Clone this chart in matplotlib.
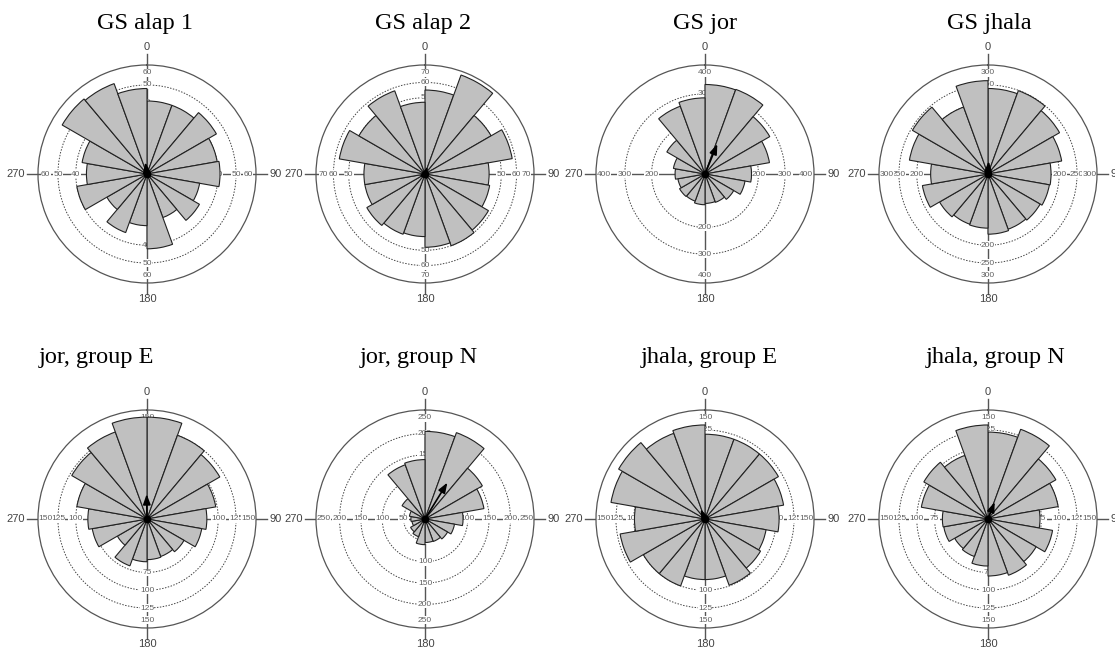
import numpy as np
import matplotlib.pyplot as plt

# counts per 20 degree sector, clockwise from north (0-20, 20-40, ... 340-360)
titles = ["GS alap 1", "GS alap 2", "GS jor", "GS jhala",
          "jor, group E", "jor, group N", "jhala, group E", "jhala, group N"]

gs_alap1 = [41, 41, 45, 40, 41, 30, 34, 26, 42, 29, 35, 26, 40, 34, 37, 55, 54, 48]
gs_alap2 = [55, 69, 50, 58, 42, 43, 48, 50, 48, 41, 42, 44, 40, 40, 57, 50, 58, 47]
gs_jor = [335, 337, 280, 245, 174, 152, 124, 113, 110, 115, 108, 110, 103, 112, 120, 165, 270, 285]
gs_jhala = [240, 249, 232, 210, 177, 175, 169, 165, 169, 152, 150, 157, 187, 161, 224, 245, 200, 262]
jor_e = [143, 125, 118, 98, 84, 78, 60, 56, 57, 60, 70, 48, 78, 83, 100, 122, 130, 143]
jor_n = [205, 215, 155, 140, 89, 70, 61, 56, 55, 60, 44, 39, 31, 33, 37, 62, 135, 139]
jhala_e = [119, 119, 119, 112, 104, 87, 90, 99, 85, 85, 100, 100, 121, 99, 134, 140, 128, 132]
jhala_n = [122, 134, 110, 100, 73, 92, 78, 84, 80, 66, 56, 54, 63, 64, 95, 104, 95, 132]

counts = [gs_alap1, gs_alap2, gs_jor, gs_jhala, jor_e, jor_n, jhala_e, jhala_n]

# scale labels on the axes (last one is the outer circle)
scale_vals = [[40, 50, 60], [50, 60, 70], [200, 300, 400], [200, 250, 300],
              [75, 100, 125, 150], [50, 100, 150, 200, 250],
              [100, 125, 150], [75, 100, 125, 150]]

# layout in pixels
W, H = 1115, 652
R_PX = 109
centers = [(147, 174), (425, 174), (705, 174), (988, 174),
           (147, 519), (425, 519), (705, 519), (988, 519)]
title_pos = [(145, 29), (423, 29), (705, 29), (989, 29),
             (96, 363), (419, 363), (709, 363), (996, 363)]

fig = plt.figure(figsize=(W / 100, H / 100), dpi=100)
fig.patch.set_facecolor("white")

sans = ["Liberation Sans", "DejaVu Sans"]
grey = "#555555"

for k, vals in enumerate(counts):
    vals = np.array(vals, dtype=float)
    n = len(vals)
    width = 2 * np.pi / n
    theta = np.arange(n) * width + width / 2
    top = scale_vals[k][-1]
    rmax = top * 1.02

    cx, cy = centers[k]
    ax = fig.add_axes([(cx - R_PX) / W, 1 - (cy + R_PX) / H, 2 * R_PX / W, 2 * R_PX / H],
                      projection="polar")
    ax.set_theta_zero_location("N")
    ax.set_theta_direction(-1)
    ax.set_rlim(0, rmax)
    ax.set_xticks([])
    ax.set_yticks(scale_vals[k][:-1])
    ax.set_yticklabels([])
    ax.yaxis.grid(True, color="#444444", linestyle=(0, (1.5, 1.5)), linewidth=0.7)
    ax.set_axisbelow(True)
    ax.spines["polar"].set_color(grey)
    ax.spines["polar"].set_linewidth(0.9)

    # cross axes
    for a in [0, np.pi / 2, np.pi, 3 * np.pi / 2]:
        ax.plot([a, a], [0, rmax * 1.1], color=grey, lw=1.0, clip_on=False, zorder=1.5)

    # scale labels on the four axes
    for v in scale_vals[k]:
        rr = v if v != top else rmax * 0.93
        for a in [0, np.pi / 2, np.pi, 3 * np.pi / 2]:
            ax.text(a, rr, str(v), ha="center", va="center", fontsize=6, color="#606060",
                    family=sans, zorder=2,
                    bbox=dict(boxstyle="square,pad=0.05", fc="white", ec="none"))

    # direction labels
    ax.text(0, rmax * 1.12, "0", ha="center", va="bottom", fontsize=8, color="#444444",
            family=sans)
    ax.text(np.pi, rmax * 1.1, "180", ha="center", va="top", fontsize=8, color="#444444",
            family=sans)
    ax.text(np.pi / 2, rmax * 1.12, "90", ha="left", va="center", fontsize=8, color="#444444",
            family=sans)
    ax.text(3 * np.pi / 2, rmax * 1.12, "270", ha="right", va="center", fontsize=8,
            color="#444444", family=sans)

    ax.bar(theta, vals, width=width, bottom=0, color="#c0c0c0", edgecolor="#222222",
           linewidth=0.8, zorder=3)

    # mean vector
    C = np.sum(vals * np.cos(theta))
    S = np.sum(vals * np.sin(theta))
    r_bar = np.hypot(C, S) / vals.sum()
    mean_ang = np.arctan2(S, C)
    ax.annotate("", xy=(mean_ang, r_bar * rmax), xytext=(mean_ang, 0),
                arrowprops=dict(arrowstyle="-|>,head_length=0.6,head_width=0.22",
                                color="black", lw=1.2, shrinkA=0, shrinkB=0),
                zorder=6)
    ax.plot(0, 0, "o", color="black", ms=4.5, zorder=7)

    tx, ty = title_pos[k]
    fig.text(tx / W, 1 - ty / H, titles[k], ha="center", va="baseline", fontsize=17.5,
             family=["Liberation Serif", "DejaVu Serif"])

fig.savefig("out.png", dpi=100, facecolor="white")
